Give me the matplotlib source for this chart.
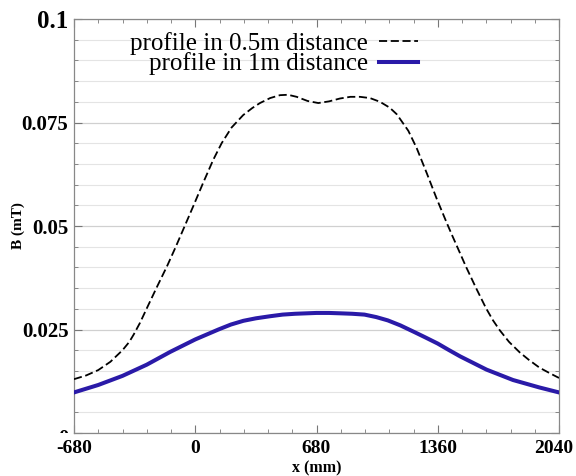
import matplotlib
matplotlib.use("Agg")
import matplotlib.pyplot as plt
from matplotlib.ticker import MultipleLocator, FixedLocator
from matplotlib.transforms import ScaledTranslation, Bbox, TransformedBbox

# ---- data ----
x_05 = [-680, -612, -544, -476, -408, -370, -345, -310, -273, -218, -156, -109, -67, -11,
        45, 101, 148, 204, 269, 320, 363, 420, 475, 520, 569, 630, 690, 750, 812, 870,
        924, 980, 1036, 1090, 1130, 1195, 1242, 1298, 1354, 1410, 1438, 1472, 1518,
        1575, 1630, 1670, 1708, 1760, 1819, 1870, 1930, 1990, 2040]
b_05 = [0.0130, 0.0139, 0.0152, 0.0172, 0.0200, 0.0220, 0.0238, 0.0266, 0.0300, 0.0350,
        0.0405, 0.0450, 0.0492, 0.0548, 0.0605, 0.0660, 0.0700, 0.0738, 0.0768, 0.0785,
        0.0797, 0.0809, 0.0816, 0.0817, 0.0812, 0.0802, 0.0797, 0.0801, 0.0808, 0.0812,
        0.0812, 0.0809, 0.0800, 0.0786, 0.0770, 0.0730, 0.0688, 0.0628, 0.0566, 0.0508,
        0.0480, 0.0447, 0.0402, 0.0350, 0.0302, 0.0272, 0.0248, 0.0220, 0.0195, 0.0177,
        0.0158, 0.0144, 0.0133]

x_1 = [-680, -544, -408, -272, -140, 0, 130, 200, 270, 340, 419, 490, 560, 620, 680, 750,
       819, 880, 949, 1015, 1080, 1150, 1228, 1290, 1360, 1420, 1486, 1560, 1634, 1782,
       1930, 2040]
b_1 = [0.0098, 0.0116, 0.0138, 0.0165, 0.0196, 0.0226, 0.0250, 0.0262, 0.0271, 0.0277,
       0.0282, 0.0286, 0.0288, 0.0289, 0.0290, 0.0290, 0.0289, 0.0288, 0.0286, 0.0280,
       0.0272, 0.0260, 0.0244, 0.0231, 0.0216, 0.0201, 0.0185, 0.0169, 0.0153, 0.0128,
       0.0110, 0.0098]

x_ticks = [-680, 0, 680, 1360, 2040]
x_ticklabels = ["-680", "0", "680", "1360", "2040"]
y_ticks = [0, 0.025, 0.05, 0.075, 0.1]
y_ticklabels = ["0", "0.025", "0.05", "0.075", "0.1"]
labels = ["profile in 0.5m distance", "profile in 1m distance"]

serif = ["Liberation Serif", "DejaVu Serif"]

fig = plt.figure(figsize=(5.76, 4.76), dpi=100)
ax = fig.add_axes([74 / 576, 1 - 433 / 476, 485 / 576, 414 / 476])

ax.plot(x_05, b_05, color="black", lw=1.3, dashes=(4.5, 2), label=labels[0], zorder=3)
ax.plot(x_1, b_1, color="#2a1aa8", lw=2.9, label=labels[1], zorder=3)

ax.set_xlim(-680, 2040)
ax.set_ylim(0, 0.1)
ax.xaxis.set_major_locator(FixedLocator(x_ticks))
ax.xaxis.set_minor_locator(MultipleLocator(136))
ax.yaxis.set_major_locator(FixedLocator(y_ticks))
ax.yaxis.set_minor_locator(MultipleLocator(0.005))
ax.set_xticklabels(x_ticklabels)
ax.set_yticklabels(y_ticklabels)

ax.grid(True, axis="y", which="minor", color="#e4e4e4", lw=0.8, zorder=0)
ax.grid(True, axis="y", which="major", color="#d0d0d0", lw=0.9, zorder=0)
ax.tick_params(which="both", direction="in", top=True, right=True, color="#777777")
ax.tick_params(which="major", length=6, width=0.8)
ax.tick_params(which="minor", length=3, width=0.6)
ax.tick_params(axis="x", pad=5)
ax.tick_params(axis="y", pad=4)
for s in ax.spines.values():
    s.set_color("#888888")
    s.set_linewidth(0.9)

for t in ax.get_xticklabels():
    t.set_fontfamily(serif)
    t.set_fontweight("bold")
    t.set_fontsize(14)
# last x label nudged left to stay inside the picture, as in the reference
last = ax.xaxis.get_major_ticks()[-1].label1
last.set_transform(last.get_transform() + ScaledTranslation(-4 / 72, 0, fig.dpi_scale_trans))

# the "0" y label is mostly hidden behind the x labels in the reference
clip = TransformedBbox(Bbox.from_extents(0, 1 - 433 / 476, 1, 1), fig.transFigure)
for t, lab in zip(ax.get_yticklabels(), y_ticklabels):
    t.set_fontfamily(serif)
    t.set_fontweight("bold")
    t.set_fontsize(18 if lab == "0.1" else 15)
    if lab == "0":
        t.set_transform(t.get_transform() + ScaledTranslation(0, -2.5 / 72, fig.dpi_scale_trans))
        t.set_clip_box(clip)
        t.set_clip_on(True)

ax.set_xlabel("x (mm)", fontfamily=serif, fontweight="bold", fontsize=11.5)
ax.xaxis.set_label_coords(0.5, -0.066)
ax.set_ylabel("B (mT)", fontfamily=serif, fontweight="bold", fontsize=11)
ax.yaxis.set_label_coords(-0.101, 0.5)

leg = ax.legend(loc="upper right", bbox_to_anchor=(418 / 576, 1 - 32 / 476),
                bbox_transform=fig.transFigure, frameon=False, markerfirst=False,
                handlelength=1.55, handletextpad=0.45, labelspacing=-0.1,
                borderpad=0, borderaxespad=0,
                prop={"family": serif, "size": 18})

fig.savefig("out.png", dpi=100)
